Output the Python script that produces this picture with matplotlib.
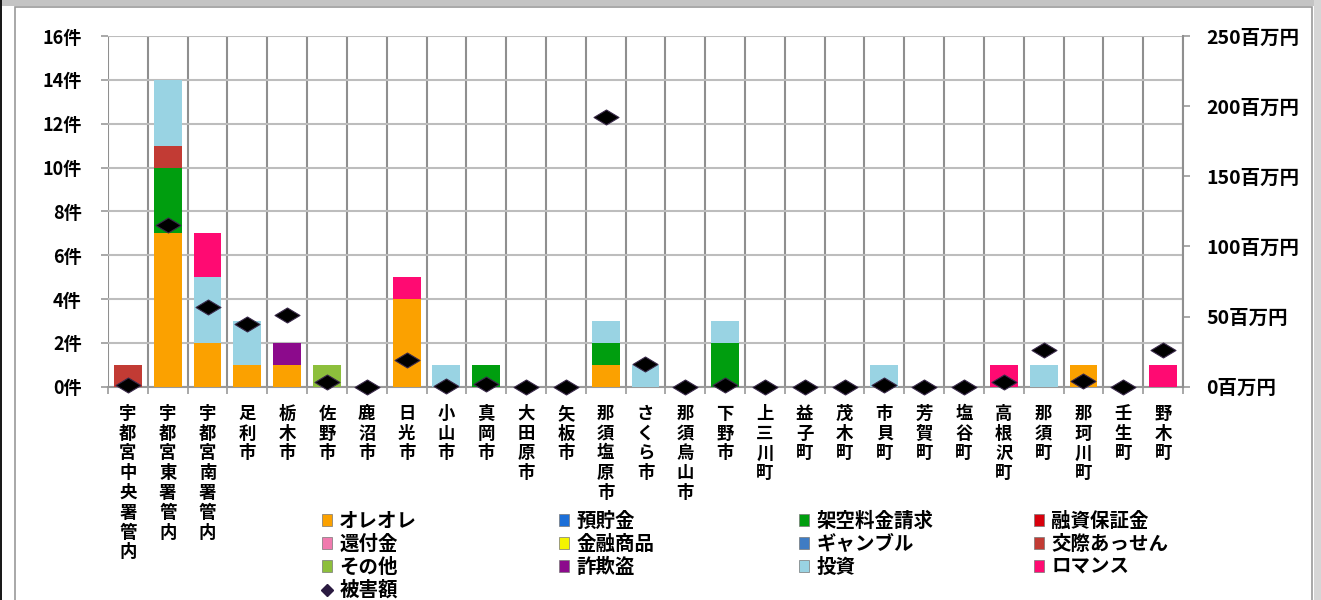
import matplotlib.pyplot as plt
import numpy as np
from matplotlib.patches import Patch, Rectangle
from matplotlib.lines import Line2D
from matplotlib.path import Path

plt.rcParams['font.family'] = ['Noto Sans CJK JP', 'DejaVu Sans']

areas = ['宇都宮中央署管内', '宇都宮東署管内', '宇都宮南署管内', '足利市', '栃木市', '佐野市',
         '鹿沼市', '日光市', '小山市', '真岡市', '大田原市', '矢板市', '那須塩原市', 'さくら市',
         '那須烏山市', '下野市', '上三川町', '益子町', '茂木町', '市貝町', '芳賀町', '塩谷町',
         '高根沢町', '那須町', '那珂川町', '壬生町', '野木町']

# 件数 (stacked)
oreore  = [0, 7, 2, 1, 1, 0, 0, 4, 0, 0, 0, 0, 1, 0, 0, 0, 0, 0, 0, 0, 0, 0, 0, 0, 1, 0, 0]
yochokin = [0] * 27
kaku    = [0, 3, 0, 0, 0, 0, 0, 0, 0, 1, 0, 0, 1, 0, 0, 2, 0, 0, 0, 0, 0, 0, 0, 0, 0, 0, 0]
yushi   = [0] * 27
kanpu   = [0] * 27
kinyu   = [0] * 27
gamble  = [0] * 27
kosai   = [1, 1, 0, 0, 0, 0, 0, 0, 0, 0, 0, 0, 0, 0, 0, 0, 0, 0, 0, 0, 0, 0, 0, 0, 0, 0, 0]
sonota  = [0, 0, 0, 0, 0, 1, 0, 0, 0, 0, 0, 0, 0, 0, 0, 0, 0, 0, 0, 0, 0, 0, 0, 0, 0, 0, 0]
sagito  = [0, 0, 0, 0, 1, 0, 0, 0, 0, 0, 0, 0, 0, 0, 0, 0, 0, 0, 0, 0, 0, 0, 0, 0, 0, 0, 0]
toshi   = [0, 3, 3, 2, 0, 0, 0, 0, 1, 0, 0, 0, 1, 1, 0, 1, 0, 0, 0, 1, 0, 0, 0, 1, 0, 0, 0]
romance = [0, 0, 2, 0, 0, 0, 0, 1, 0, 0, 0, 0, 0, 0, 0, 0, 0, 0, 0, 0, 0, 0, 1, 0, 0, 0, 1]

# 被害額 (百万円)
damage = [1.5, 115, 57, 45, 51, 3.6, 0, 19, 0.3, 2, 0, 0, 192, 16, 0, 1.5, 0, 0, 0, 1.5,
          0, 0, 3, 26, 4, 0, 26]

series = [
    ('オレオレ', oreore, '#FBA100'),
    ('預貯金', yochokin, '#1C6FD8'),
    ('架空料金請求', kaku, '#009E0F'),
    ('融資保証金', yushi, '#D8000C'),
    ('還付金', kanpu, '#F07AAE'),
    ('金融商品', kinyu, '#F4F400'),
    ('ギャンブル', gamble, '#3F7CC4'),
    ('交際あっせん', kosai, '#C23B34'),
    ('その他', sonota, '#8DBF3C'),
    ('詐欺盗', sagito, '#8C0A8C'),
    ('投資', toshi, '#99D3E3'),
    ('ロマンス', romance, '#FF0A72'),
]

fig = plt.figure(figsize=(13.21, 6.0), dpi=100)
# outer frame / shadow like the original picture
frame = [
    Rectangle((0, 1 - 6 / 600), 1, 6 / 600, facecolor='#c4c4c4', edgecolor='none'),
    Rectangle((0, 0), 2 / 1321, 1, facecolor='#1a1a1a', edgecolor='none'),
    Rectangle((1314 / 1321, 0), 7 / 1321, 1, facecolor='#d6d6d6', edgecolor='none'),
    Rectangle((15 / 1321, -0.01), 1297 / 1321, 1 - 7 / 600 + 0.01, facecolor='white',
              edgecolor='#9a9a9a', lw=1.2),
]
for p in frame:
    p.set_transform(fig.transFigure)
    p.set_zorder(-10)
    fig.patches.append(p)

ax = fig.add_axes([108 / 1321, 1 - 386.7 / 600, (1183 - 108) / 1321, (386.7 - 36) / 600])
ax.patch.set_alpha(0)

x = np.arange(len(areas))
bottom = np.zeros(len(areas))
handles = []
for name, vals, col in series:
    vals = np.array(vals, dtype=float)
    ax.bar(x, vals, 0.7, bottom=bottom, color=col, lw=0, zorder=3)
    bottom += vals
    handles.append(Patch(facecolor=col, edgecolor='#777777', lw=0.5, label=name))

ax.set_xlim(-0.5, len(areas) - 0.5)
ax.set_ylim(0, 16)
ax.set_yticks(range(0, 17, 2))
ax.set_yticklabels([f'{v}件' for v in range(0, 17, 2)], fontsize=13, fontweight='bold')
ax.set_xticks(x)
ax.set_xticklabels(['\n'.join(a) for a in areas], fontsize=12.5, fontweight='bold',
                   va='top', linespacing=1.13)
ax.set_xticks(np.arange(-0.5, len(areas), 1), minor=True)
ax.tick_params(axis='x', which='major', length=0, pad=13)
ax.tick_params(axis='x', which='minor', length=5, color='#999999', width=1.2)
ax.tick_params(axis='y', length=5, color='#999999', width=1.2, pad=14)
ax.grid(axis='y', color='#bdbdbd', lw=1.5, zorder=0)
ax.grid(axis='x', which='minor', color='#8f8f8f', lw=1.5, zorder=0)
for s in ax.spines.values():
    s.set_visible(False)
ax.spines['bottom'].set_visible(True)
ax.spines['bottom'].set_color('#999999')
ax.spines['bottom'].set_linewidth(1.5)

ax2 = ax.twinx()
ax2.set_ylim(0, 250)
ax2.set_yticks(range(0, 251, 50))
ax2.set_yticklabels([f'{v}百万円' for v in range(0, 251, 50)], fontsize=14, fontweight='bold')
ax2.tick_params(axis='y', length=5, color='#999999', width=1.2, pad=12)
for s in ax2.spines.values():
    s.set_visible(False)
ax2.spines['right'].set_visible(True)
ax2.spines['right'].set_color('#8f8f8f')
ax2.spines['right'].set_linewidth(1.5)

diamond = Path([(-1, 0), (0, 0.6), (1, 0), (0, -0.6), (-1, 0)],
               [Path.MOVETO, Path.LINETO, Path.LINETO, Path.LINETO, Path.CLOSEPOLY])
ax2.plot(x, damage, ls='none', marker=diamond, ms=18, color='black', mec='#3a2a4a',
         mew=0.8, zorder=5, clip_on=False)

dmg_h = Line2D([], [], ls='none', marker='D', ms=6, color='#2a1a40', label='被害額')
# the original legend runs row by row in 4 columns; one legend per column here
columns = [
    [handles[0], handles[4], handles[8], dmg_h],
    [handles[1], handles[5], handles[9]],
    [handles[2], handles[6], handles[10]],
    [handles[3], handles[7], handles[11]],
]
col_x = [312, 549, 789, 1024]
for cx, hs in zip(col_x, columns):
    fig.legend(handles=hs, loc='upper left', bbox_to_anchor=(cx / 1321, 1 - 502 / 600),
               frameon=False, prop={'size': 14, 'weight': 'bold'},
               handlelength=0.55, handleheight=0.55, handletextpad=0.35,
               labelspacing=0.2, borderpad=0)

fig.savefig('out.png', dpi=100)
